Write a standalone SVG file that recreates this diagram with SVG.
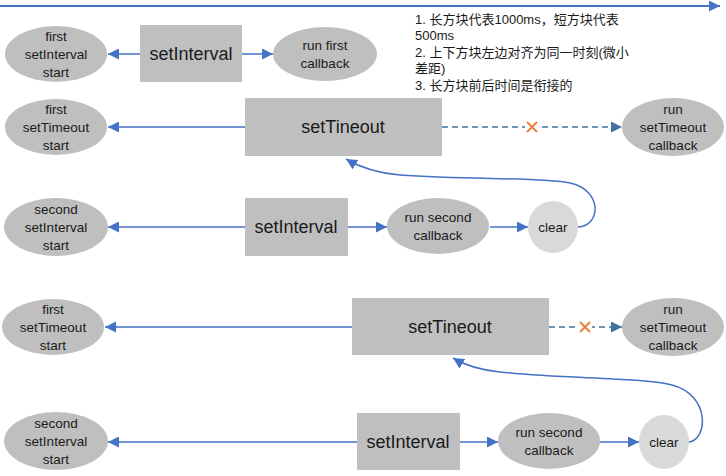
<svg xmlns="http://www.w3.org/2000/svg" width="726" height="476" viewBox="0 0 726 476">
<style>
.bg{fill:#ffffff}
.el{fill:#BFBFBF}
.clr{fill:#D9D9D9}
.box{fill:#BFBFBF}
.t{font-family:"Liberation Sans",Arial,sans-serif;font-size:13.5px;fill:#1a1a1a;text-anchor:middle}
.tb{font-family:"Liberation Sans",Arial,sans-serif;font-size:18px;fill:#1a1a1a;text-anchor:middle}
.note{font-family:"Liberation Sans","Noto Sans CJK SC",sans-serif;font-size:13px;fill:#1a1a1a}
.ln{stroke:#4472C4;stroke-width:1.5;fill:none;marker-end:url(#ab)}
.dl{stroke:#41719C;stroke-width:1.5;fill:none;stroke-dasharray:6,4;marker-end:url(#ad)}
.x{stroke:#ED7D31;stroke-width:1.8;fill:none}
</style>
<defs>
<marker id="ab" markerUnits="userSpaceOnUse" markerWidth="11" markerHeight="11" viewBox="0 0 10 10" refX="10" refY="5" orient="auto"><path d="M0,0 L10,5 L0,10 z" fill="#4472C4"/></marker>
<marker id="ad" markerUnits="userSpaceOnUse" markerWidth="11" markerHeight="11" viewBox="0 0 10 10" refX="10" refY="5" orient="auto"><path d="M0,0 L10,5 L0,10 z" fill="#41719C"/></marker>
</defs>
<rect class="bg" width="726" height="476"/>

<g id="connectors">
<line class="ln" x1="0" y1="6" x2="720" y2="6" style="stroke-width:2"/>
<line class="ln" x1="140" y1="54" x2="108" y2="54"/>
<line class="ln" x1="242" y1="54" x2="273" y2="54"/>
<line class="ln" x1="245" y1="127" x2="108" y2="127"/>
<line class="dl" x1="442" y1="127" x2="622" y2="127"/>
<line class="ln" x1="245" y1="227" x2="108" y2="227"/>
<line class="ln" x1="348" y1="227" x2="387" y2="227"/>
<line class="ln" x1="490" y1="227" x2="528" y2="227"/>
<path class="ln" d="M578,227 C601,226 603,190 570,183 C540,177 470,180 400,175 C376,173 361,168 346,159"/>
<line class="ln" x1="352" y1="327" x2="105" y2="327"/>
<line class="dl" x1="549" y1="327" x2="622" y2="327"/>
<line class="ln" x1="357" y1="442" x2="108" y2="442"/>
<line class="ln" x1="460" y1="442" x2="498" y2="442"/>
<line class="ln" x1="600" y1="442" x2="639" y2="442"/>
<path class="ln" d="M688,442 C708,441 711,395 672,385 C640,377 560,379 500,372 C481,370 466,366 453,358"/>
</g>
<g id="cross1"><rect x="525" y="120" width="14" height="14" fill="#ffffff"/><path class="x" d="M527,122 L537,132 M537,122 L527,132"/></g>
<g id="cross2"><rect x="578" y="320" width="14" height="14" fill="#ffffff"/><path class="x" d="M580,322 L590,332 M590,322 L580,332"/></g>

<g id="note">
<text class="note" x="415" y="24">1. 长方块代表1000ms，短方块代表</text>
<text class="note" x="415" y="40">500ms</text>
<text class="note" x="415" y="57">2. 上下方块左边对齐为同一时刻(微小</text>
<text class="note" x="415" y="73">差距)</text>
<text class="note" x="415" y="90">3. 长方块前后时间是衔接的</text>
</g>

<g id="n1"><ellipse class="el" cx="56" cy="54" rx="51" ry="28"/><text class="t" x="56" y="41">first</text><text class="t" x="56" y="59">setInterval</text><text class="t" x="56" y="77">start</text></g>
<g id="n2"><rect class="box" x="140" y="25" width="102" height="57"/><text class="tb" x="191" y="60">setInterval</text></g>
<g id="n3"><ellipse class="el" cx="325" cy="54" rx="52" ry="27"/><text class="t" x="325" y="50">run first</text><text class="t" x="325" y="68">callback</text></g>

<g id="n4"><ellipse class="el" cx="56" cy="127" rx="51" ry="28"/><text class="t" x="56" y="114">first</text><text class="t" x="56" y="132">setTimeout</text><text class="t" x="56" y="150">start</text></g>
<g id="n5"><rect class="box" x="245" y="98" width="197" height="58"/><text class="tb" x="343" y="133">setTineout</text></g>
<g id="n6"><ellipse class="el" cx="673" cy="127" rx="51" ry="29"/><text class="t" x="673" y="114">run</text><text class="t" x="673" y="132">setTimeout</text><text class="t" x="673" y="150">callback</text></g>

<g id="n7"><ellipse class="el" cx="56" cy="227" rx="52" ry="29"/><text class="t" x="56" y="214">second</text><text class="t" x="56" y="232">setInterval</text><text class="t" x="56" y="250">start</text></g>
<g id="n8"><rect class="box" x="245" y="198" width="103" height="58"/><text class="tb" x="296" y="233">setInterval</text></g>
<g id="n9"><ellipse class="el" cx="438" cy="226" rx="51" ry="28"/><text class="t" x="438" y="222">run second</text><text class="t" x="438" y="240">callback</text></g>
<g id="n10"><ellipse class="clr" cx="553" cy="227" rx="25" ry="26"/><text class="t" x="553" y="232">clear</text></g>

<g id="n11"><ellipse class="el" cx="53" cy="327" rx="51" ry="28"/><text class="t" x="53" y="314">first</text><text class="t" x="53" y="332">setTimeout</text><text class="t" x="53" y="350">start</text></g>
<g id="n12"><rect class="box" x="352" y="298" width="197" height="57"/><text class="tb" x="450" y="333">setTineout</text></g>
<g id="n13"><ellipse class="el" cx="673" cy="327" rx="51" ry="29"/><text class="t" x="673" y="314">run</text><text class="t" x="673" y="332">setTimeout</text><text class="t" x="673" y="350">callback</text></g>

<g id="n14"><ellipse class="el" cx="56" cy="441" rx="52" ry="29"/><text class="t" x="56" y="428">second</text><text class="t" x="56" y="446">setInterval</text><text class="t" x="56" y="464">start</text></g>
<g id="n15"><rect class="box" x="357" y="413" width="103" height="57"/><text class="tb" x="408" y="448">setInterval</text></g>
<g id="n16"><ellipse class="el" cx="549" cy="441" rx="51" ry="28"/><text class="t" x="549" y="437">run second</text><text class="t" x="549" y="455">callback</text></g>
<g id="n17"><ellipse class="clr" cx="664" cy="442" rx="25" ry="27"/><text class="t" x="664" y="447">clear</text></g>
</svg>
